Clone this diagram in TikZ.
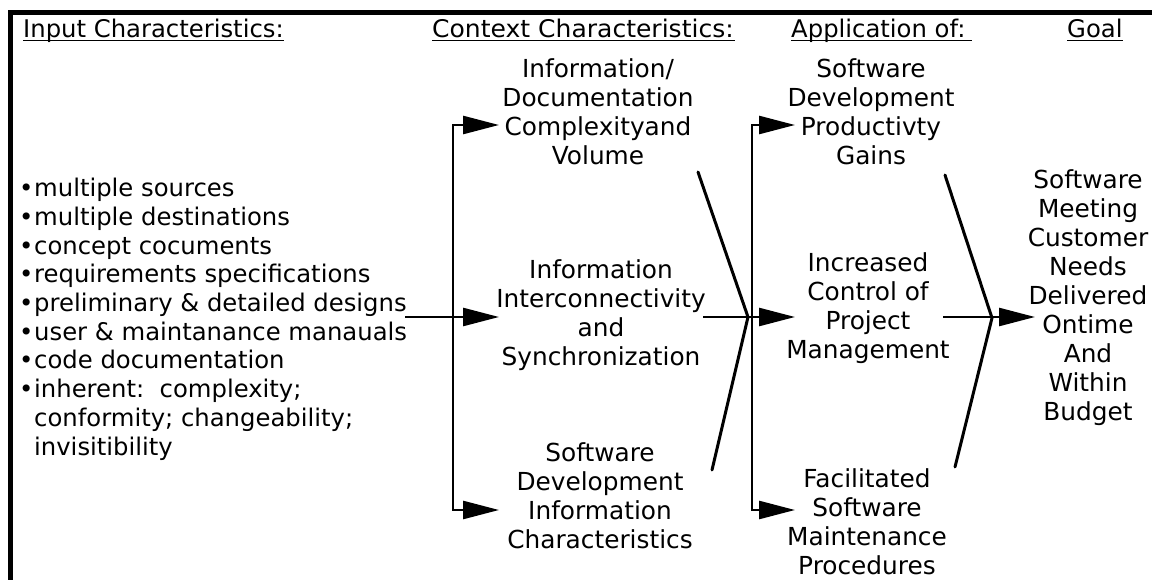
\documentclass[tikz,border=0pt]{standalone}
\usepackage{fontspec}
\setmainfont{DejaVu Sans}
\usetikzlibrary{arrows.meta}
\newcommand{\bul}{\makebox[15pt][l]{•}}
\begin{document}
\begin{tikzpicture}[x=1pt,y=-1pt,
  txt/.style={font=\fontsize{24.8}{29}\selectfont, inner sep=0pt, align=center, anchor=base},
  lst/.style={font=\fontsize{24.3}{28.7}\selectfont, inner sep=0pt, align=left, anchor=base west},
  hdr/.style={font=\fontsize{24.3}{29}\selectfont, inner sep=0pt, anchor=base west},
  uline/.style={line width=1.5pt},
  arr/.style={line width=2.6pt, -{Triangle[length=36pt,width=18pt]}},
  chev/.style={line width=3pt, line cap=round}]
\useasboundingbox (0,0) rectangle (1152,580);

% frame: left and top rules
\draw[line width=5pt, line join=miter] (10,580) -- (10,12.5) -- (1152,12.5);

% column headings (node base = baseline of the last line)
\node[hdr] (hIn) at (23,38) {Input Characteristics:};
\draw[uline] ([shift={(0,2.5)}]hIn.base west) -- ([shift={(0,2.5)}]hIn.base east);
\begin{scope}
  \clip (430,15) rectangle (735,50);
  \node[hdr, xscale=1.03] (hCtx) at (432,38) {Context Characteristics:};
\end{scope}
\draw[uline] ([shift={(0,2.5)}]hCtx.base west) -- ++(303,0);
\begin{scope}
  \clip (789,15) rectangle (972,50);
  \node[hdr] (hApp) at (791,38) {Application of:};
\end{scope}
\draw[uline] ([shift={(0,2.5)}]hApp.base west) -- ++(181,0);
\node[hdr] (hGoal) at (1067,38) {Goal};
\draw[uline] ([shift={(0,2.5)}]hGoal.base west) -- ([shift={(0,2.5)}]hGoal.base east);

% input list
\node[lst] (inputs) at (19,455)
  {\bul multiple sources\\
   \bul multiple destinations\\
   \bul concept cocuments\\
   \bul requirements specifications\\
   \bul preliminary \& detailed designs\\
   \bul user \& maintanance manauals\\
   \bul code documentation\\
   \bul inherent:\ \ complexity;\\
   \hspace*{15pt}conformity; changeability;\\
   \hspace*{15pt}invisitibility};

% context characteristics
\node[txt] (ctxTop) at (598,165) {Information/\\Documentation\\Complexityand\\Volume};
\node[txt] (ctxMid) at (601,365) {Information\\Interconnectivity\\and\\Synchronization};
\node[txt] (ctxBot) at (600,548) {Software\\Development\\Information\\Characteristics};

% application of
\node[txt] (appTop) at (871,165) {Software\\Development\\Productivty\\Gains};
\node[txt] (appMid) at (868,358) {Increased\\Control of\\Project\\Management};
\node[txt] (appBot) at (867,574) {Facilitated\\Software\\Maintenance\\Procedures};

% goal
\node[txt] (goal) at (1088,420) {Software\\Meeting\\Customer\\Needs\\Delivered\\Ontime\\And\\Within\\Budget};

% junction and tip points
\coordinate (inOut) at (405,317);
\coordinate (jA) at (453,317);
\coordinate (tCtxTop) at (499,125);
\coordinate (tCtxMid) at (499,317);
\coordinate (tCtxBot) at (499,510);
\coordinate (ctxOut) at (703,317);
\coordinate (cTop) at (698,172);
\coordinate (cV) at (748,317);
\coordinate (cBot) at (712,470);
\coordinate (jB) at (752,317);
\coordinate (tAppTop) at (795,125);
\coordinate (tAppMid) at (795,317);
\coordinate (tAppBot) at (795,510);
\coordinate (appOut) at (943,317);
\coordinate (aTop) at (945,175);
\coordinate (aV) at (992,318);
\coordinate (aBot) at (955,467);
\coordinate (tGoal) at (1035,317);

% inputs fan out to the context characteristics
\draw[arr] (inOut) -- (tCtxMid);
\draw[arr] (jA) |- (tCtxTop);
\draw[arr] (jA) |- (tCtxBot);

% context characteristics merge, then fan out to the applications
\draw[chev] (cTop) -- (cV) -- (cBot);
\draw[arr] (ctxOut) -- (tAppMid);
\draw[arr] (jB) |- (tAppTop);
\draw[arr] (jB) |- (tAppBot);

% applications merge into the goal
\draw[chev] (aTop) -- (aV) -- (aBot);
\draw[arr] (appOut) -- (tGoal);
\end{tikzpicture}
\end{document}
